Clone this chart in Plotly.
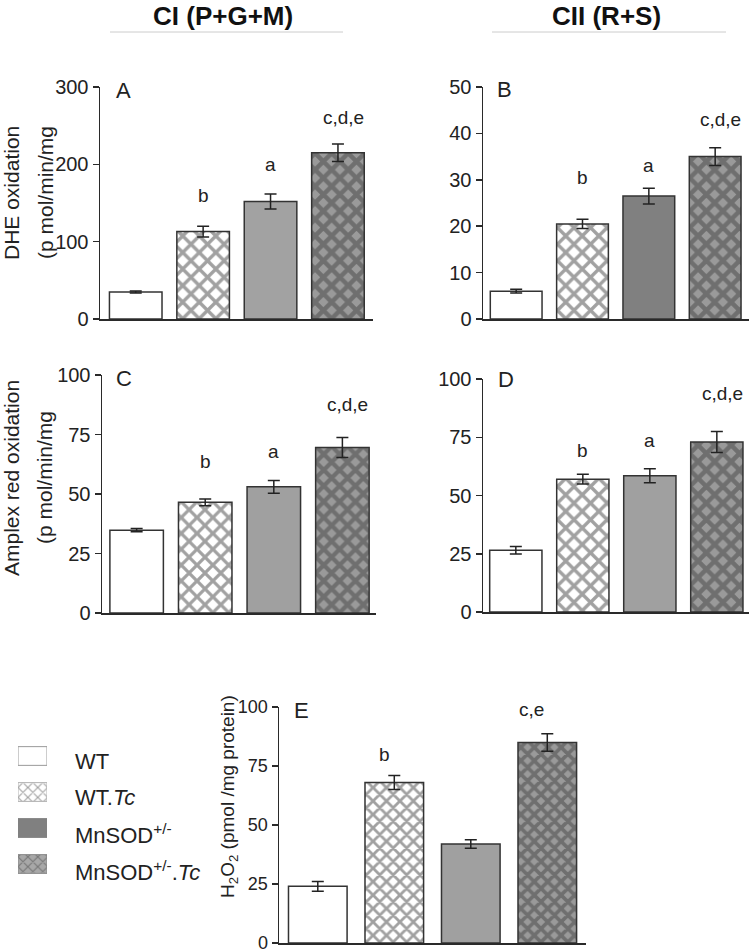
import plotly.graph_objects as go

W, H = 752, 949

groups = ["WT", "WT.Tc", "MnSOD+/-", "MnSOD+/-.Tc"]
legend_labels = ["WT", "WT.<i>Tc</i>", "MnSOD<sup>+/-</sup>", "MnSOD<sup>+/-</sup>.<i>Tc</i>"]

dhe_ci = [35, 113, 152, 215]
dhe_ci_err = [1.3, 6.9, 9.7, 11.2]
dhe_ci_sig = ["", "b", "a", "c,d,e"]

dhe_cii = [6, 20.5, 26.5, 35]
dhe_cii_err = [0.4, 1.0, 1.7, 1.9]
dhe_cii_sig = ["", "b", "a", "c,d,e"]

amplex_ci = [34.8, 46.5, 53, 69.5]
amplex_ci_err = [0.7, 1.4, 2.7, 4.2]
amplex_ci_sig = ["", "b", "a", "c,d,e"]

amplex_cii = [26.5, 57, 58.5, 73]
amplex_cii_err = [1.6, 2.1, 3.0, 4.5]
amplex_cii_sig = ["", "b", "a", "c,d,e"]

h2o2 = [24, 68, 42, 85]
h2o2_err = [2.1, 3.0, 1.8, 3.7]
h2o2_sig = ["", "b", "", "c,e"]

FONT = "Liberation Sans, Arial, sans-serif"
AX = "#2a2a2a"


def px_x(p):
    return p / W


def px_y(p):
    return 1 - p / H


panels = [
    dict(k="", xpx=(100, 373), ypx=(87, 319), yr=[0, 300], xr=[-0.53, 3.52], dt=100, bw=0.78,
         vals=dhe_ci, err=dhe_ci_err, sig=dhe_ci_sig, sigy=[0, 160, 200, 260], sigdx=[0, 0, 0, 0.08],
         mid="#a2a2a2", letter="A", lx=123, ly=91, ps=11.7, tf=20),
    dict(k="2", xpx=(483, 749), ypx=(87, 319), yr=[0, 50], xr=[-0.5, 3.51], dt=10, bw=0.78,
         vals=dhe_cii, err=dhe_cii_err, sig=dhe_cii_sig, sigy=[0, 30.6, 33, 43], sigdx=[0, 0, 0, 0.08],
         mid="#808080", letter="B", lx=504, ly=90, ps=11.7, tf=20),
    dict(k="3", xpx=(102, 376), ypx=(375, 613), yr=[0, 100], xr=[-0.505, 3.49], dt=25, bw=0.78,
         vals=amplex_ci, err=amplex_ci_err, sig=amplex_ci_sig, sigy=[0, 63.5, 68, 87.8], sigdx=[0, 0, 0, 0.08],
         mid="#a0a0a0", letter="C", lx=124, ly=378, ps=11.2, tf=20),
    dict(k="4", xpx=(483, 749), ypx=(379, 612), yr=[0, 100], xr=[-0.49, 3.48], dt=25, bw=0.78,
         vals=amplex_cii, err=amplex_cii_err, sig=amplex_cii_sig, sigy=[0, 69.5, 73.8, 93.9], sigdx=[0, 0, 0, 0.08],
         mid="#a0a0a0", letter="D", lx=506, ly=379, ps=11.7, tf=20),
    dict(k="5", xpx=(279, 586), ypx=(707, 943), yr=[0, 100], xr=[-0.507, 3.506], dt=25, bw=0.766,
         vals=h2o2, err=h2o2_err, sig=h2o2_sig, sigy=[0, 79.8, 0, 99], sigdx=[0, -0.13, 0, -0.2],
         mid="#a0a0a0", letter="E", lx=301, ly=710, ps=9.5, tf=18),
]

fig = go.Figure()
annotations = []
layout = {}

for p in panels:
    k = p["k"]
    xa = "x" + k
    ya = "y" + k
    fig.add_trace(go.Bar(
        x=[0, 1, 2, 3], y=p["vals"], width=p["bw"], xaxis=xa, yaxis=ya,
        marker=dict(
            color=["#ffffff", "#ffffff", p["mid"], "#9a9a9a"],
            line=dict(color="#333333", width=1.5),
            pattern=dict(shape=["", "x", "", "x"],
                         fgcolor=["#ffffff", "#6a6a6a", p["mid"], "#000000"],
                         size=p["ps"], solidity=[0.3, 0.5, 0.3, 0.62]),
        ),
        error_y=dict(type="data", array=p["err"], visible=True, color="#222222",
                     thickness=1.5, width=6),
        showlegend=False, hoverinfo="skip",
    ))
    layout["xaxis" + k] = dict(
        domain=[px_x(p["xpx"][0]), px_x(p["xpx"][1])], range=p["xr"], anchor=ya,
        showline=True, linecolor=AX, linewidth=1.5, showticklabels=False, ticks="",
        showgrid=False, zeroline=False, fixedrange=True, automargin=False,
    )
    layout["yaxis" + k] = dict(
        domain=[px_y(p["ypx"][1]), px_y(p["ypx"][0])], range=p["yr"], anchor=xa,
        showline=True, linecolor=AX, linewidth=1.5, ticks="outside", ticklen=6,
        tickwidth=1.5, tickcolor=AX, dtick=p["dt"], tick0=0, showgrid=False,
        zeroline=False, tickfont=dict(size=p["tf"], color="#222222", family=FONT),
        automargin=False, fixedrange=True, ticklabeloverflow="allow",
    )
    for i, s in enumerate(p["sig"]):
        if s:
            annotations.append(dict(x=i + p["sigdx"][i], y=p["sigy"][i], xref=xa, yref=ya,
                                    text=s, showarrow=False, xanchor="center", yanchor="middle",
                                    font=dict(size=19, color="#222222", family=FONT)))
    annotations.append(dict(x=px_x(p["lx"]), y=px_y(p["ly"]), xref="paper", yref="paper",
                            text=p["letter"], showarrow=False, xanchor="center", yanchor="middle",
                            font=dict(size=22, color="#222222", family=FONT)))

# Legend swatches drawn as bars on a hidden axis
fig.add_trace(go.Bar(
    y=[0, 1, 2, 3], x=[1, 1, 1, 1], orientation="h", width=0.52, xaxis="x6", yaxis="y6",
    marker=dict(
        color=["#ffffff", "#ffffff", "#808080", "#a8a8a8"],
        line=dict(color=["#9a9a9a", "#b0b0b0", "#808080", "#888888"], width=1),
        pattern=dict(shape=["", "x", "", "x"],
                     fgcolor=["#ffffff", "#bdbdbd", "#808080", "#666666"],
                     size=7, solidity=0.3),
    ),
    showlegend=False, hoverinfo="skip",
))
layout["xaxis6"] = dict(domain=[px_x(18), px_x(47)], range=[0, 1], anchor="y6", visible=False,
                        fixedrange=True, automargin=False)
layout["yaxis6"] = dict(domain=[px_y(882), px_y(738)], range=[3.5, -0.5], anchor="x6", visible=False,
                        fixedrange=True, automargin=False)
for i, lab in enumerate(legend_labels):
    annotations.append(dict(x=px_x(73), y=px_y(761 + 36.5 * i), xref="paper", yref="paper",
                            xanchor="left", yanchor="middle", text=lab, showarrow=False,
                            font=dict(size=22, color="#222222", family=FONT)))

# Column headers
annotations.append(dict(x=px_x(223), y=px_y(16), xref="paper", yref="paper", text="<b>CI (P+G+M)</b>",
                        showarrow=False, xanchor="center", yanchor="middle",
                        font=dict(size=26, color="#111111", family=FONT)))
annotations.append(dict(x=px_x(606), y=px_y(16), xref="paper", yref="paper", text="<b>CII (R+S)</b>",
                        showarrow=False, xanchor="center", yanchor="middle",
                        font=dict(size=26, color="#111111", family=FONT)))

# Y-axis titles
ytitles = [
    ("DHE oxidation", 12, 193, 21), ("(p mol/min/mg", 46, 193, 21),
    ("Amplex red oxidation", 12, 478, 21), ("(p mol/min/mg", 45, 478, 21),
    ("H<sub>2</sub>O<sub>2</sub> (pmol /mg protein)", 229, 797, 19),
]
for t, xx, yy, fs in ytitles:
    annotations.append(dict(x=px_x(xx), y=px_y(yy), xref="paper", yref="paper", text=t,
                            textangle=-90, showarrow=False, xanchor="center", yanchor="middle",
                            font=dict(size=fs, color="#222222", family=FONT)))

shapes = [
    dict(type="line", xref="paper", yref="paper", x0=px_x(110), x1=px_x(343), y0=px_y(32), y1=px_y(32),
         line=dict(color="#cccccc", width=1)),
    dict(type="line", xref="paper", yref="paper", x0=px_x(492), x1=px_x(726), y0=px_y(32), y1=px_y(32),
         line=dict(color="#cccccc", width=1)),
]

fig.update_layout(
    width=W, height=H, margin=dict(l=0, r=0, t=0, b=0, pad=0, autoexpand=False),
    paper_bgcolor="white", plot_bgcolor="white",
    font=dict(family=FONT, color="#222222"),
    annotations=annotations, shapes=shapes, bargap=0, showlegend=False,
    **layout,
)

fig.write_html("out.html", config={"displayModeBar": False, "staticPlot": True},
               post_script="document.body.style.margin='0';document.body.style.overflow='hidden';")
